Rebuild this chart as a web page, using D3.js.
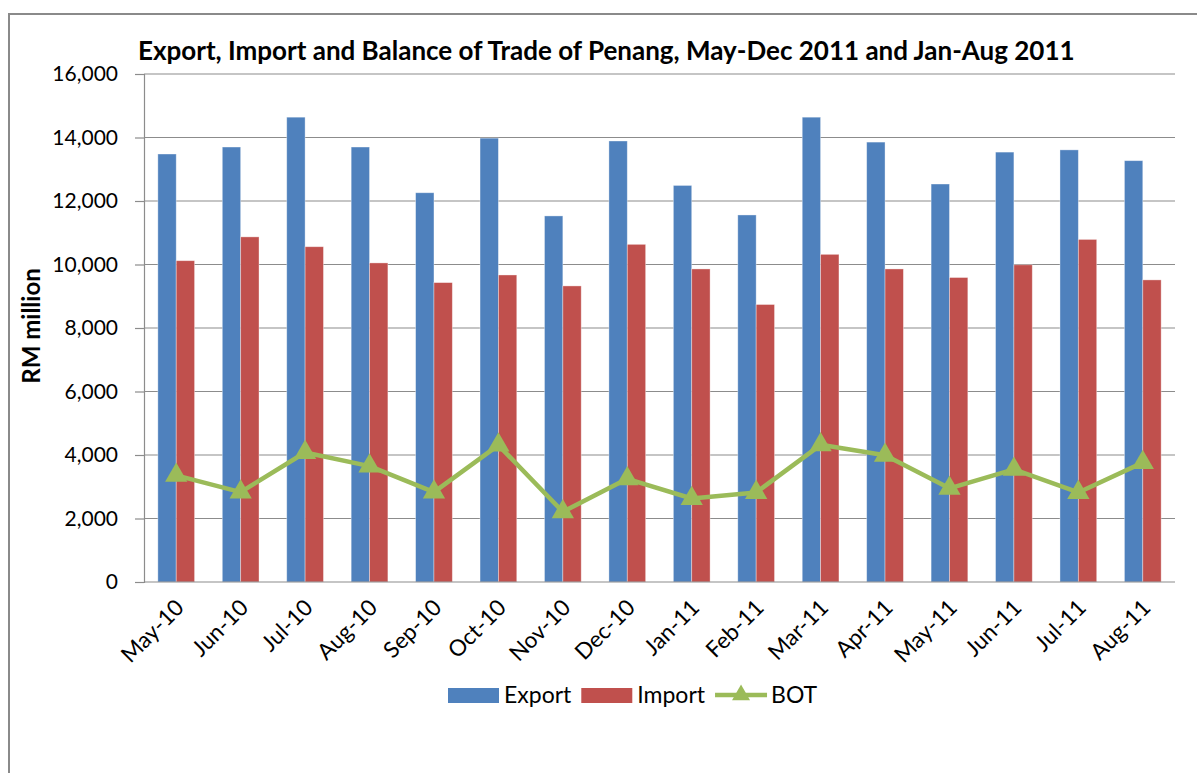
<!DOCTYPE html>
<html>
<head>
<meta charset="utf-8">
<script src="https://cdn.jsdelivr.net/npm/d3@7"></script>
<style>
  body { margin: 0; background: #fff; }
  svg { display: block; }
</style>
</head>
<body>
<div id="chart"></div>
<script>
// data (RM million)
var months = ["May-10", "Jun-10", "Jul-10", "Aug-10", "Sep-10", "Oct-10", "Nov-10", "Dec-10",
              "Jan-11", "Feb-11", "Mar-11", "Apr-11", "May-11", "Jun-11", "Jul-11", "Aug-11"];
var exportVals = [13480, 13700, 14640, 13700, 12260, 13980, 11530, 13890,
                  12490, 11560, 14640, 13855, 12535, 13540, 13610, 13270];
var importVals = [10120, 10870, 10560, 10050, 9430, 9670, 9325, 10635,
                  9860, 8740, 10320, 9860, 9590, 9990, 10790, 9515];
var botVals = [3360, 2830, 4080, 3650, 2830, 4310, 2210, 3250,
               2630, 2820, 4320, 3990, 2950, 3550, 2820, 3760];
var yTicks = [0, 2000, 4000, 6000, 8000, 10000, 12000, 14000, 16000];
var seriesNames = ["Export", "Import", "BOT"];

var W = 1197, H = 773;
var font = "Lato, 'Open Sans', sans-serif";
var colors = { Export: "#4F81BD", Import: "#C0504D", BOT: "#9BBB59" };
var plot = { left: 144, right: 1175, top: 74, bottom: 582 };

var svg = d3.select("#chart").append("svg")
  .attr("width", W)
  .attr("height", H);

svg.append("rect").attr("width", W).attr("height", H).attr("fill", "#fff");

// outer frame (cut off at right and bottom like the original)
svg.append("rect")
  .attr("x", 9).attr("y", 14)
  .attr("width", W + 20).attr("height", H + 20)
  .attr("fill", "none")
  .attr("stroke", "#8a8a8a")
  .attr("stroke-width", 2);

var x = d3.scaleBand()
  .domain(months)
  .range([plot.left, plot.right])
  .paddingInner(0.43)
  .paddingOuter(0.215);

var xSub = d3.scaleBand()
  .domain(["Export", "Import"])
  .range([0, x.bandwidth()]);

var y = d3.scaleLinear()
  .domain([0, 16000])
  .range([plot.bottom, plot.top]);

// gridlines
svg.append("g")
  .selectAll("line")
  .data(yTicks.filter(function (d) { return d > 0; }))
  .enter().append("line")
  .attr("x1", plot.left).attr("x2", plot.right)
  .attr("y1", function (d) { return y(d); })
  .attr("y2", function (d) { return y(d); })
  .attr("stroke", "#8c8c8c")
  .attr("stroke-width", 1.2);

// y axis
var yAxis = svg.append("g")
  .attr("transform", "translate(" + plot.left + ",0)")
  .call(d3.axisLeft(y).tickValues(yTicks).tickSize(9).tickPadding(17)
    .tickFormat(d3.format(",")));
yAxis.select(".domain").attr("stroke", "#8c8c8c").attr("stroke-width", 1.2);
yAxis.selectAll(".tick line").attr("stroke", "#8c8c8c").attr("stroke-width", 1.2);
yAxis.selectAll("text")
  .style("font-family", font)
  .style("font-size", "21px")
  .attr("fill", "#000");

// bars
var barData = [];
months.forEach(function (m, i) {
  barData.push({ month: m, key: "Export", value: exportVals[i] });
  barData.push({ month: m, key: "Import", value: importVals[i] });
});

svg.append("g")
  .selectAll("rect")
  .data(barData)
  .enter().append("rect")
  .attr("x", function (d) { return x(d.month) + xSub(d.key); })
  .attr("y", function (d) { return y(d.value); })
  .attr("width", xSub.bandwidth())
  .attr("height", function (d) { return y(0) - y(d.value); })
  .attr("fill", function (d) { return colors[d.key]; })
  .attr("stroke", "rgba(255,255,255,0.45)")
  .attr("stroke-width", 0.8);

// x axis line
svg.append("line")
  .attr("x1", plot.left).attr("x2", plot.right)
  .attr("y1", y(0)).attr("y2", y(0))
  .attr("stroke", "#8c8c8c")
  .attr("stroke-width", 1.2);

// x labels, rotated
svg.append("g")
  .selectAll("text")
  .data(months)
  .enter().append("text")
  .attr("transform", function (d) {
    return "translate(" + (x(d) + x.bandwidth() / 2 - 2) + "," + (plot.bottom + 16) + ") rotate(-45)";
  })
  .attr("text-anchor", "end")
  .attr("dy", "0.7em")
  .style("font-family", font)
  .style("font-size", "22.5px")
  .text(function (d) { return d; });

// BOT line
var line = d3.line()
  .x(function (d, i) { return x(months[i]) + x.bandwidth() / 2; })
  .y(function (d) { return y(d); });

svg.append("path")
  .datum(botVals)
  .attr("d", line)
  .attr("fill", "none")
  .attr("stroke", colors.BOT)
  .attr("stroke-width", 4.5)
  .attr("stroke-linejoin", "round");

var tri = d3.symbol().type(d3.symbolTriangle).size(215);
svg.append("g")
  .selectAll("path")
  .data(botVals)
  .enter().append("path")
  .attr("d", tri)
  .attr("transform", function (d, i) {
    return "translate(" + (x(months[i]) + x.bandwidth() / 2) + "," + y(d) + ")";
  })
  .attr("fill", colors.BOT);

// title
svg.append("text")
  .attr("x", 138)
  .attr("y", 60)
  .style("font-family", font)
  .style("font-weight", "bold")
  .style("font-size", "26px")
  .text("Export, Import and Balance of Trade of Penang, May-Dec 2011 and Jan-Aug 2011");

// y axis title
svg.append("text")
  .attr("transform", "translate(40," + ((plot.top + plot.bottom) / 2 - 2) + ") rotate(-90)")
  .attr("text-anchor", "middle")
  .style("font-family", font)
  .style("font-weight", "bold")
  .style("font-size", "24px")
  .text("RM million");

// legend
var legend = svg.append("g");
var lx = 448, ly = 695;
seriesNames.forEach(function (name) {
  if (name === "BOT") {
    legend.append("line")
      .attr("x1", lx).attr("x2", lx + 52)
      .attr("y1", ly).attr("y2", ly)
      .attr("stroke", colors.BOT).attr("stroke-width", 4.5);
    legend.append("path")
      .attr("d", d3.symbol().type(d3.symbolTriangle).size(140))
      .attr("transform", "translate(" + (lx + 26) + "," + ly + ")")
      .attr("fill", colors.BOT);
  } else {
    legend.append("rect")
      .attr("x", lx).attr("y", ly - 7)
      .attr("width", 51).attr("height", 15)
      .attr("fill", colors[name]);
  }
  var t = legend.append("text")
    .attr("x", lx + 56)
    .attr("y", ly + 8)
    .style("font-family", font)
    .style("font-size", "23px")
    .text(name);
  lx = lx + 56 + t.node().getComputedTextLength() + 10;
});
</script>
</body>
</html>
